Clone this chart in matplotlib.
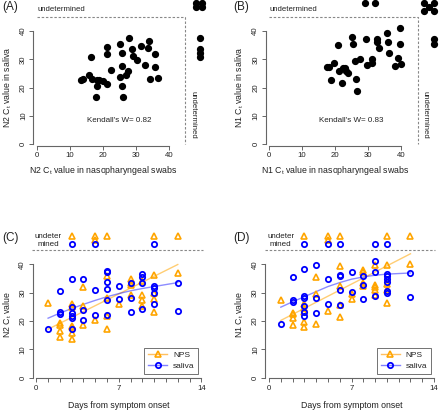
import matplotlib
matplotlib.use('Agg')
import matplotlib.pyplot as plt
from matplotlib.lines import Line2D

plt.rcParams['font.family'] = ['Liberation Sans', 'DejaVu Sans']
plt.rcParams['mathtext.default'] = 'regular'

# ---------------- data ----------------
# (A) N2: paired Ct values, NPS (x) vs saliva (y)
n2_nps = [13.3, 14.1, 15.9, 16.4, 16.9, 17.9, 18.2, 18.4, 18.9, 20.0, 21.2, 21.2, 21.2,
          22.5, 25.1, 25.3, 25.8, 25.8, 25.8, 26.0, 27.0, 27.6, 27.9, 28.9, 29.1, 30.3,
          31.5, 32.9, 33.6, 34.1, 34.2, 35.9, 35.9, 36.9]
n2_saliva = [22.7, 23.2, 24.6, 30.7, 22.9, 16.8, 22.7, 20.6, 22.7, 22.5, 31.8, 34.5, 21.4,
             26.2, 23.9, 35.6, 32.4, 27.6, 20.6, 16.8, 24.4, 26.0, 37.6, 33.5, 31.2, 29.8,
             34.9, 28.0, 33.9, 36.6, 23.2, 32.0, 27.2, 23.5]
n2_saliva_when_nps_undet = [37.5, 33.6, 32.4, 30.8]
n2_both_undet_x = [48.3, 50.0, 48.3, 50.0]
n2_both_undet_y = [49.8, 49.8, 48.6, 48.6]

# (B) N1
n1_nps = [17.7, 18.3, 18.7, 19.7, 20.8, 21.3, 22.0, 22.5, 23.0, 23.3, 23.8, 25.1, 25.4,
          26.2, 26.4, 26.8, 27.6, 29.5, 29.8, 31.1, 31.3, 32.7, 32.7, 33.2, 35.7, 36.1,
          36.5, 38.1, 39.2, 39.7, 39.8, 40.0]
n1_saliva = [27.4, 27.4, 22.7, 28.6, 35.2, 25.9, 21.5, 26.8, 26.8, 26.0, 25.1, 38.0, 35.6,
             29.6, 23.1, 18.8, 30.1, 37.1, 28.0, 30.1, 28.6, 37.3, 36.2, 34.1, 39.5, 36.2,
             32.1, 27.6, 30.6, 41.2, 35.6, 28.4]
n1_nps_when_saliva_undet = [29.1, 32.2]
n1_saliva_when_nps_undet = [37.1, 35.3]
n1_both_undet_x = [47.0, 50.1, 48.5, 47.0, 50.1]
n1_both_undet_y = [50.0, 50.0, 48.6, 47.2, 47.2]
kendall = ["Kendall's W= 0.82", "Kendall's W= 0.83"]

# (C) N2 Ct by days from symptom onset
c_nps_days = [1, 2, 2, 2, 2, 3, 3, 3, 3, 3, 3, 4, 4, 4, 5, 6, 6, 6, 6, 7,
              8, 8, 8, 8, 9, 9, 9, 9, 10, 10, 10, 10, 12]
c_nps_vals = [26.2, 19.2, 18.5, 16.5, 14.4, 25.9, 25.1, 18.4, 17.7, 15.9, 13.8,
              31.9, 25.2, 18.5, 20.4, 36.1, 28.1, 21.6, 17.3, 26.0,
              34.7, 33.6, 32.7, 29.1, 34.3, 29.2, 27.3, 25.4, 36.2, 29.9, 27.8, 23.1, 37.1]
c_sal_days = [1, 2, 2, 2, 3, 3, 3, 3, 3, 3, 4, 4, 4, 5, 5, 6, 6, 6, 6, 6, 6, 7, 7,
              8, 8, 8, 9, 9, 9, 9, 10, 10, 10, 10, 12, 12]
c_sal_vals = [17.0, 30.7, 23.3, 22.6, 34.7, 24.8, 22.7, 21.7, 20.9, 17.1, 34.7, 23.8, 20.5,
              30.9, 22.1, 37.8, 37.2, 33.9, 31.5, 27.4, 22.3, 32.3, 27.7,
              33.5, 28.2, 23.2, 36.5, 35.6, 33.3, 24.2, 32.3, 31.8, 30.0, 26.1, 33.6, 23.6]
c_nps_undet_days = [3, 5, 5, 6, 10, 12]
c_sal_undet_days = [3, 5, 10]
c_nps_fit_days = [1, 12]
c_nps_fit_vals = [17.1, 40.0]
c_sal_fit_days = [1, 2, 3, 4, 5, 6, 7, 8, 9, 10, 11, 12]
c_sal_fit_vals = [21.0, 22.8, 24.4, 25.9, 27.3, 28.6, 29.7, 30.7, 31.5, 32.2, 32.9, 33.6]

# (D) N1 Ct by days from symptom onset
d_nps_days = [1, 2, 2, 2, 2, 3, 3, 3, 3, 3, 4, 4, 4, 5, 6, 6, 6, 6, 7, 7,
              8, 8, 8, 8, 9, 9, 9, 9, 9, 10, 10, 10, 10, 12]
d_nps_vals = [27.3, 23.0, 22.4, 21.2, 18.6, 26.0, 24.6, 23.3, 19.8, 17.8,
              35.7, 29.5, 18.9, 23.6, 39.3, 32.4, 25.6, 21.5, 29.5, 27.7,
              38.2, 37.5, 33.3, 32.4, 39.8, 32.9, 32.2, 31.0, 29.3,
              39.8, 33.2, 31.1, 26.3, 40.1]
d_sal_days = [1, 2, 2, 2, 3, 3, 3, 3, 3, 3, 4, 4, 4, 5, 5, 6, 6, 6, 6, 7, 7,
              8, 8, 8, 9, 9, 9, 10, 10, 10, 10, 10, 10, 12, 12]
d_sal_vals = [19.0, 35.5, 27.3, 26.7, 38.3, 28.7, 28.1, 25.3, 23.3, 21.7, 39.9, 28.1, 23.0,
              34.9, 26.1, 36.4, 36.0, 30.8, 25.8, 37.3, 30.1, 36.1, 32.6, 27.7,
              41.4, 37.5, 28.7, 36.8, 36.0, 34.8, 33.8, 30.6, 30.0, 36.9, 28.4]
d_nps_undet_days = [3, 5, 5, 6, 10, 12]
d_sal_undet_days = [3, 5, 6, 9, 10]
d_nps_fit_days = [1, 12]
d_nps_fit_vals = [20.2, 43.8]
d_sal_fit_days = [1, 2, 3, 4, 5, 6, 7, 8, 9, 10, 11, 12]
d_sal_fit_vals = [24.9, 26.8, 28.6, 30.4, 32.2, 33.6, 34.8, 35.6, 36.2, 36.6, 36.8, 37.0]

UNDET_NPS = 50
UNDET_SAL = 47.1

# ---------------- figure ----------------
W, H = 440, 411
fig = plt.figure(figsize=(W / 100, H / 100), dpi=100)

AX_COL = '#666666'
TXT_COL = '#222222'
ORANGE = '#FFA500'
BLUE = '#0000FF'


def make_axes(x0, kx, y0, ky, xlim, ylim):
    # x0/y0: pixel position of data 0, kx/ky: pixels per data unit
    left = (x0 + kx * xlim[0]) / W
    right = (x0 + kx * xlim[1]) / W
    bottom = 1 - (y0 - ky * ylim[0]) / H
    top = 1 - (y0 - ky * ylim[1]) / H
    ax = fig.add_axes([left, bottom, right - left, top - bottom])
    ax.set_xlim(*xlim)
    ax.set_ylim(*ylim)
    ax.patch.set_alpha(0)
    for s in ['top', 'right']:
        ax.spines[s].set_visible(False)
    for s in ['left', 'bottom']:
        ax.spines[s].set_color(AX_COL)
        ax.spines[s].set_linewidth(0.8)
    ax.tick_params(direction='out', length=2.8, width=0.7, color=AX_COL,
                   labelsize=5.6, labelcolor=TXT_COL, pad=1.8)
    return ax


def dashed(ax, xs, ys):
    ax.plot(xs, ys, color='#888888', lw=0.8, ls=(0, (2.2, 1.6)), clip_on=False)


dot = dict(ls='none', marker='o', ms=4.2, color='black', clip_on=False)

# ---- panels A and B ----
scatter_panels = [
    (36.7, n2_nps, n2_saliva, 'N2', kendall[0]),
    (269.0, n1_nps, n1_saliva, 'N1', kendall[1]),
]
axes_ab = []
for x0, xv, yv, gene, kw in scatter_panels:
    ax = make_axes(x0, 3.3, 144.3, 2.83, (-1.0, 41), (-0.5, 41))
    ax.spines['left'].set_bounds(0, 40)
    ax.spines['bottom'].set_bounds(0, 40)
    ax.set_xticks([0, 10, 20, 30, 40])
    ax.set_yticks([0, 10, 20, 30, 40])
    ax.set_yticklabels(['0', '10', '20', '30', '40'], rotation=90, va='center')
    ax.plot(xv, yv, **dot)
    dashed(ax, [0, 45, 45], [45, 45, 0])
    ax.text(0.2, 47.5, 'undetermined', fontsize=5.6, color=TXT_COL, ha='left', va='center')
    ax.text(47.3, 10.3, 'undetermined', fontsize=5.6, color=TXT_COL, rotation=-90,
            ha='center', va='center')
    ax.text(25, 8.3, kw, fontsize=5.8, color=TXT_COL, ha='center', va='center')
    axes_ab.append(ax)
    cx = (x0 + 3.3 * 20) / W
    fig.text(cx, 1 - 170.5 / H, gene + ' C$_t$ value in nasopharyngeal swabs',
             fontsize=6.3, color=TXT_COL, ha='center', va='center')
    fig.text((x0 - 29.4) / W, 1 - 87.5 / H, gene + ' C$_t$ value in saliva',
             fontsize=6.3, color=TXT_COL, ha='center', va='center', rotation=90)

ax_a, ax_b = axes_ab
ax_a.plot([49.5] * len(n2_saliva_when_nps_undet), n2_saliva_when_nps_undet, **dot)
ax_a.plot(n2_both_undet_x, n2_both_undet_y, **dot)
ax_b.plot(n1_nps_when_saliva_undet, [50] * len(n1_nps_when_saliva_undet), **dot)
ax_b.plot([50.1] * len(n1_saliva_when_nps_undet), n1_saliva_when_nps_undet, **dot)
ax_b.plot(n1_both_undet_x, n1_both_undet_y, **dot)

# ---- panels C and D ----
tri = dict(ls='none', marker='^', ms=4.8, mfc='none', mec=ORANGE, mew=1.2, clip_on=False)
circ = dict(ls='none', marker='o', ms=3.8, mfc='none', mec=BLUE, mew=1.3, clip_on=False)


def stacked(days):
    # repeated undetermined days are stacked downward
    seen, ys = {}, []
    for d in days:
        k = seen.get(d, 0)
        seen[d] = k + 1
        ys.append(UNDET_NPS - 1.4 * k)
    return ys


time_panels = [
    (36.3, 'N2', c_nps_days, c_nps_vals, c_sal_days, c_sal_vals, c_nps_undet_days,
     c_sal_undet_days, c_nps_fit_days, c_nps_fit_vals, c_sal_fit_days, c_sal_fit_vals),
    (269.0, 'N1', d_nps_days, d_nps_vals, d_sal_days, d_sal_vals, d_nps_undet_days,
     d_sal_undet_days, d_nps_fit_days, d_nps_fit_vals, d_sal_fit_days, d_sal_fit_vals),
]
for (x0, gene, nd, nv, sd, sv, nud, sud, nfd, nfv, sfd, sfv) in time_panels:
    ax = make_axes(x0, 11.79, 377.5, 2.825, (-0.3, 14.3), (-0.3, 41))
    ax.spines['left'].set_bounds(0, 40)
    ax.spines['bottom'].set_bounds(0, 14)
    ax.set_xticks(range(15))
    ax.set_xticklabels(['0' if d == 0 else '7' if d == 7 else '14' if d == 14 else ''
                        for d in range(15)])
    ax.set_yticks([0, 10, 20, 30, 40])
    ax.set_yticklabels(['0', '10', '20', '30', '40'], rotation=90, va='center')

    ax.plot(nfd, nfv, color=ORANGE, alpha=0.55, lw=1.0, clip_on=False)
    ax.plot(sfd, sfv, color=BLUE, alpha=0.45, lw=1.0, clip_on=False)
    ax.plot(nd, nv, **tri)
    ax.plot(sd, sv, **circ)
    ax.plot(nud, stacked(nud), **tri)
    ax.plot(sud, [UNDET_SAL] * len(sud), **circ)
    dashed(ax, [-0.35, 14.1], [45, 45])
    ax.text(1.0, 49.8, 'undeter', fontsize=5.8, color=TXT_COL, ha='center', va='center')
    ax.text(1.0, 47.0, 'mined', fontsize=5.8, color=TXT_COL, ha='center', va='center')

    handles = [
        Line2D([], [], color='#FFC060', lw=1.0, marker='^', ms=4.8, mfc='none',
               mec=ORANGE, mew=1.2),
        Line2D([], [], color='#8080FF', lw=1.0, marker='o', ms=3.8, mfc='none',
               mec=BLUE, mew=1.3),
    ]
    leg = ax.legend(handles, ['NPS', 'saliva'], loc='lower right',
                    bbox_to_anchor=((x0 + 162.0) / W, 1 - 373.8 / H),
                    bbox_transform=fig.transFigure, fontsize=6.0, frameon=True,
                    fancybox=False, edgecolor='#333333', borderpad=0.45,
                    handlelength=2.3, handletextpad=0.7, labelspacing=0.35,
                    borderaxespad=0)
    leg.get_frame().set_linewidth(0.6)
    for t in leg.get_texts():
        t.set_color(TXT_COL)

    fig.text((x0 + 11.79 * 7) / W, 1 - 405 / H, 'Days from symptom onset',
             fontsize=6.3, color=TXT_COL, ha='center', va='center')
    fig.text((x0 - 29.0) / W, 1 - 315 / H, gene + ' C$_t$ value',
             fontsize=6.3, color=TXT_COL, ha='center', va='center', rotation=90)

# panel letters
for lab, px, py in [('(A)', 2, 7), ('(B)', 233, 7), ('(C)', 2, 238), ('(D)', 233, 238)]:
    fig.text(px / W, 1 - py / H, lab, fontsize=8.5, color=TXT_COL, ha='left', va='center')

fig.savefig('out.png', dpi=100)
